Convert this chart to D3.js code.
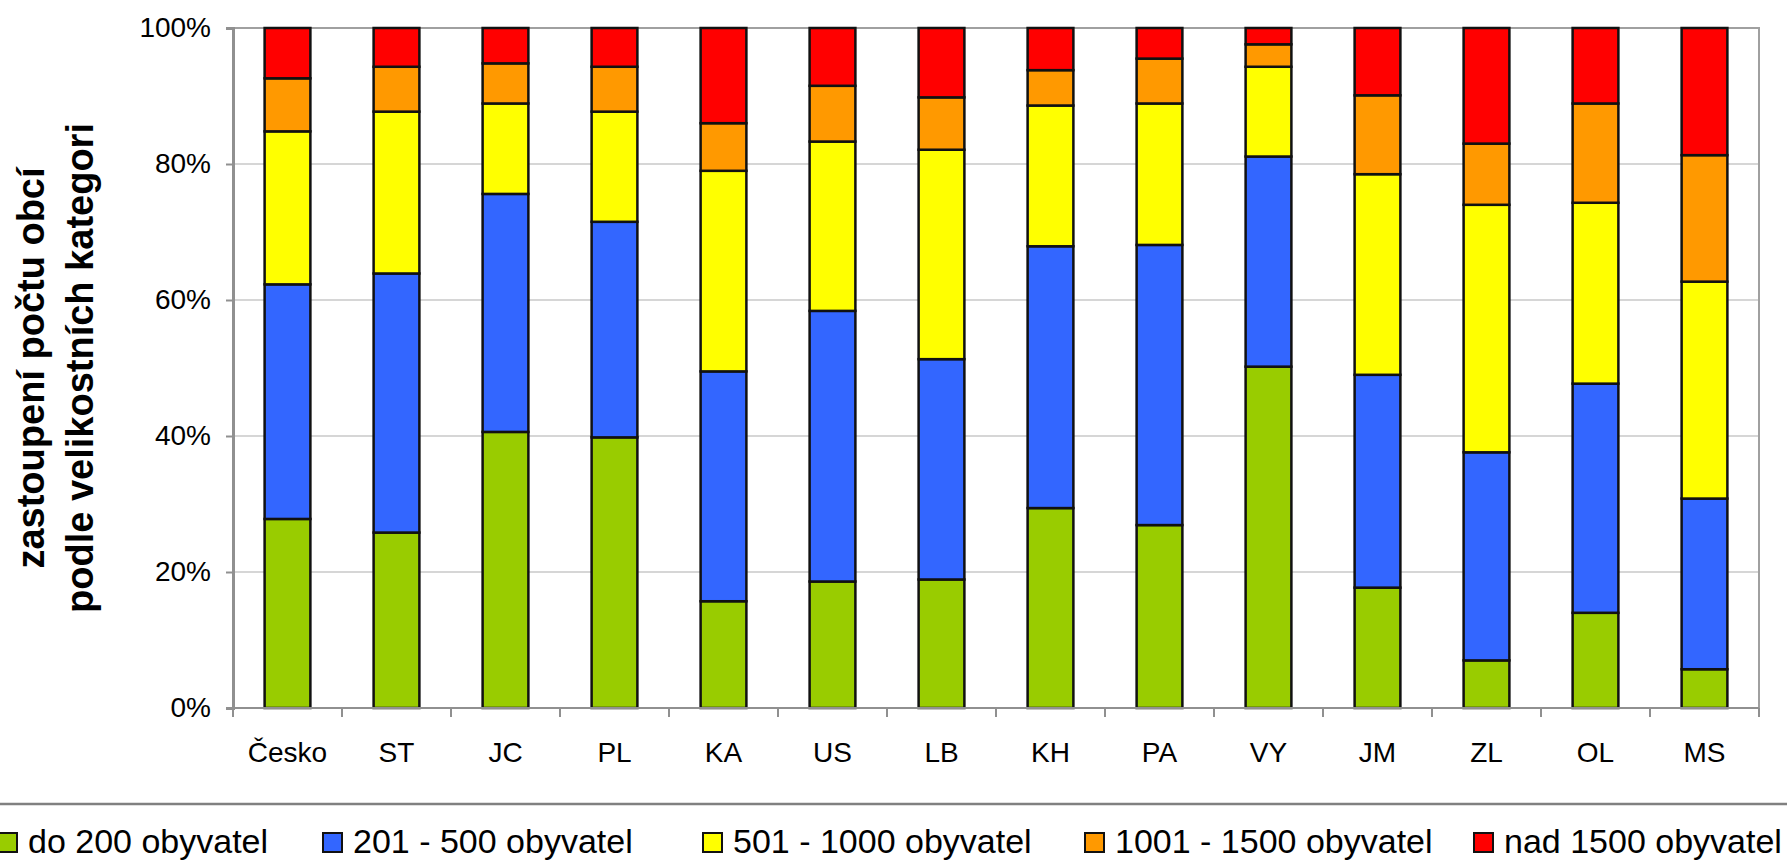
<!DOCTYPE html>
<html>
<head>
<meta charset="utf-8">
<script src="https://cdnjs.cloudflare.com/ajax/libs/d3/7.8.5/d3.min.js"></script>
<style>
  body { margin: 0; background: #fff; }
  text { font-family: "Liberation Sans", Arial, sans-serif; fill: #000; }
</style>
</head>
<body>
<div id="chart"></div>
<script>
// categories (regions)
var regions = ["Česko", "ST", "JC", "PL", "KA", "US", "LB", "KH", "PA", "VY", "JM", "ZL", "OL", "MS"];

// share of municipalities by size category, %
var do200   = [27.8, 25.8, 40.6, 39.8, 15.7, 18.6, 18.9, 29.4, 26.9, 50.2, 17.7, 7.0, 14.0, 5.7];
var s201500 = [34.5, 38.1, 35.0, 31.7, 33.8, 39.8, 32.4, 38.5, 41.2, 30.9, 31.3, 30.6, 33.7, 25.1];
var s5011000 = [22.5, 23.8, 13.3, 16.2, 29.5, 24.9, 30.8, 20.7, 20.8, 13.2, 29.5, 36.4, 26.6, 31.9];
var s10011500 = [7.8, 6.6, 5.9, 6.6, 7.0, 8.2, 7.7, 5.2, 6.6, 3.3, 11.6, 9.0, 14.6, 18.6];
var nad1500 = [7.4, 5.7, 5.2, 5.7, 14.0, 8.5, 10.2, 6.2, 4.5, 2.4, 9.9, 17.0, 11.1, 18.7];

var seriesNames = ["do 200 obyvatel", "201 - 500 obyvatel", "501 - 1000 obyvatel", "1001 - 1500 obyvatel", "nad 1500 obyvatel"];
var seriesColors = ["#99cc00", "#3366ff", "#ffff00", "#ff9900", "#ff0000"];
var yTicks = [0, 20, 40, 60, 80, 100];

var allSeries = [do200, s201500, s5011000, s10011500, nad1500];

// table for d3.stack
var table = regions.map(function (r, i) {
  var row = { region: r };
  allSeries.forEach(function (s, k) { row["s" + k] = s[i]; });
  return row;
});
var keys = allSeries.map(function (s, k) { return "s" + k; });

var width = 1789, height = 860;
var plot = { left: 233, right: 1759, top: 28, bottom: 708 };

var svg = d3.select("#chart").append("svg")
  .attr("width", width)
  .attr("height", height);

var x = d3.scaleBand().domain(regions).range([plot.left, plot.right]);
var y = d3.scaleLinear().domain([0, 100]).range([plot.bottom, plot.top]);

// gridlines
svg.append("g")
  .selectAll("line")
  .data(yTicks.filter(function (d) { return d > 0 && d < 100; }))
  .enter().append("line")
    .attr("x1", plot.left).attr("x2", plot.right)
    .attr("y1", function (d) { return y(d); })
    .attr("y2", function (d) { return y(d); })
    .attr("stroke", "#c8c8c8")
    .attr("stroke-width", 1.5);

// plot frame (top + right)
svg.append("path")
  .attr("d", "M" + plot.left + "," + y(100) + "H" + plot.right + "V" + plot.bottom)
  .attr("fill", "none")
  .attr("stroke", "#a0a0a0")
  .attr("stroke-width", 2);

// stacked bars
var stacked = d3.stack().keys(keys)(table);
var barW = x.bandwidth() * 0.42;

svg.append("g")
  .selectAll("g")
  .data(stacked)
  .enter().append("g")
    .attr("fill", function (d, i) { return seriesColors[i]; })
  .selectAll("rect")
  .data(function (d) { return d; })
  .enter().append("rect")
    .attr("x", function (d) { return x(d.data.region) + (x.bandwidth() - barW) / 2; })
    .attr("y", function (d) { return y(d[1]); })
    .attr("width", barW)
    .attr("height", function (d) { return y(d[0]) - y(d[1]); })
    .attr("stroke", "#111")
    .attr("stroke-width", 2.5);

// y axis
var yAxis = d3.axisLeft(y)
  .tickValues(yTicks)
  .tickFormat(function (d) { return d + "%"; })
  .tickSize(7)
  .tickPadding(15);

var yg = svg.append("g")
  .attr("transform", "translate(" + plot.left + ",0)")
  .call(yAxis);
yg.select(".domain").attr("stroke", "#909090").attr("stroke-width", 3);
yg.selectAll(".tick line").attr("stroke", "#909090").attr("stroke-width", 2);
yg.selectAll(".tick text")
  .style("font-size", "28px")
  .style("font-family", "'Liberation Sans', Arial, sans-serif")
  .attr("fill", "#000");

// x axis: line, ticks at band boundaries, labels
var xg = svg.append("g").attr("class", "x-axis");
xg.append("line")
  .attr("x1", plot.left).attr("x2", plot.right)
  .attr("y1", plot.bottom).attr("y2", plot.bottom)
  .attr("stroke", "#909090").attr("stroke-width", 2);

var bounds = regions.map(function (r) { return x(r); }).concat([x(regions[regions.length - 1]) + x.bandwidth()]);
xg.selectAll("line.tk")
  .data(bounds)
  .enter().append("line")
    .attr("class", "tk")
    .attr("x1", function (d) { return d; }).attr("x2", function (d) { return d; })
    .attr("y1", plot.bottom).attr("y2", plot.bottom + 9)
    .attr("stroke", "#909090").attr("stroke-width", 2);

xg.selectAll("text")
  .data(regions)
  .enter().append("text")
    .attr("x", function (d) { return x(d) + x.bandwidth() / 2; })
    .attr("y", 762)
    .attr("text-anchor", "middle")
    .style("font-size", "28px")
    .text(function (d) { return d; });

// y axis title
var titleLines = ["zastoupení počtu obcí", "podle velikostních kategori"];
svg.selectAll("text.ytitle")
  .data(titleLines)
  .enter().append("text")
    .attr("class", "ytitle")
    .attr("transform", function (d, i) { return "translate(" + (44 + i * 49) + ",368) rotate(-90)"; })
    .attr("text-anchor", "middle")
    .style("font-size", "38px")
    .style("font-weight", "bold")
    .text(function (d) { return d; });

// legend
svg.append("line")
  .attr("x1", 0).attr("x2", 1787)
  .attr("y1", 804).attr("y2", 804)
  .attr("stroke", "#808080").attr("stroke-width", 2.5);

var legendX = [-3, 322, 702, 1084, 1473];
var legend = svg.append("g")
  .selectAll("g")
  .data(seriesNames)
  .enter().append("g")
    .attr("transform", function (d, i) { return "translate(" + legendX[i] + ",0)"; });

legend.append("rect")
  .attr("x", 1).attr("y", 833)
  .attr("width", 19).attr("height", 19)
  .attr("fill", function (d, i) { return seriesColors[i]; })
  .attr("stroke", "#111")
  .attr("stroke-width", 2);

legend.append("text")
  .attr("x", 31)
  .attr("y", 853)
  .style("font-size", "34px")
  .text(function (d) { return d; });
</script>
</body>
</html>
